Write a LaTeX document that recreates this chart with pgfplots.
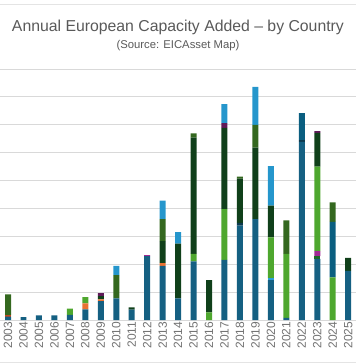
\documentclass[border=0pt]{standalone}
\usepackage{fontspec}
\setmainfont{Liberation Sans}
\usepackage{pgfplots}
\usepackage{pgfplotstable}
\pgfplotsset{compat=1.18}
\definecolor{cA}{HTML}{156082}
\definecolor{cO}{HTML}{E97132}
\definecolor{cBr}{HTML}{C04A1E}
\definecolor{cGt}{HTML}{196B24}
\definecolor{cG}{HTML}{2A9FD6}
\definecolor{cP}{HTML}{A02B93}
\definecolor{cD}{HTML}{4EA72E}
\definecolor{cN}{HTML}{0D3A4E}
\definecolor{cE}{HTML}{10401A}
\definecolor{cT}{HTML}{0A5E80}
\definecolor{cM}{HTML}{601A58}
\definecolor{cOl}{HTML}{34681F}
\definecolor{cH}{HTML}{2596CC}
\definecolor{txt}{HTML}{595959}
\definecolor{grd}{HTML}{D9D9D9}
\pgfplotstableread{
x  A    O    Br   Gt   G    P    D    N    E    T    M    Ol   H
0  0.12 0    0.05 0    0    0    0    0    0    0    0    0.75 0
1  0.10 0    0    0    0    0    0    0    0    0    0    0    0
2  0.17 0    0    0    0    0    0    0    0    0    0    0    0
3  0.17 0    0    0    0    0    0    0    0    0    0    0    0
4  0.18 0    0    0    0    0    0.23 0    0    0    0    0    0
5  0.38 0.22 0    0    0    0    0.22 0    0    0    0    0    0
6  0.68 0.06 0    0    0    0    0    0    0.12 0    0.10 0    0
7  0.78 0    0    0    0    0    0    0    0    0    0    0.83 0.33
8  0.37 0    0    0    0    0    0    0    0.08 0    0    0    0
9  2.29 0    0    0    0    0.04 0    0    0    0    0    0    0
10 1.94 0.10 0    0    0    0    0    0    0.79 0    0    0.79 0.66
11 0.78 0    0    0    0    0    0    0    1.96 0    0    0    0.41
12 2.10 0    0    0    0    0    0.27 0    4.17 0    0    0.15 0
13 0    0    0    0    0    0    0.27 0    1.16 0    0    0    0
14 2.16 0    0    0    0    0    1.82 0    2.91 0    0.17 0    0.68
15 3.38 0    0    0    0    0    0    0.10 1.59 0    0    0.07 0
16 3.62 0    0    0    0    0    0    0    2.56 0    0    0.82 1.36
17 1.43 0    0    0    0.06 0    1.47 0    1.14 0    0    0    1.42
18 0.08 0    0    0    0    0    2.29 0    0    0    0    1.20 0
19 6.39 0    0    0    0    0    0    0.06 0    0.97 0    0    0
20 2.19 0    0    0.10 0    0.18 3.03 0    1.21 0    0.06 0    0
21 0    0    0    0    0    0    1.53 0    0    1.99 0    0.70 0
22 1.76 0    0    0    0    0    0    0    0.47 0    0    0    0
}\data
\begin{document}
\begin{tikzpicture}
\begin{axis}[
  scale only axis,
  width=356bp, height=251.1bp,
  xmin=-0.52, xmax=22.5,
  ymin=0, ymax=9,
  ybar stacked, bar width=6bp,
  axis line style={draw=none},
  ytick={0,1,...,9}, yticklabels={},
  ymajorgrids, grid style={grd, line width=0.9bp},
  major tick length=0,
  xtick=data,
  xticklabels={2003,2004,2005,2006,2007,2008,2009,2010,2011,2012,2013,2014,2015,2016,2017,2018,2019,2020,2021,2022,2023,2024,2025},
  xticklabel style={rotate=90, anchor=east, font=\fontsize{12bp}{14bp}\selectfont, text=txt!85, inner sep=1.5bp},
  clip=false,
]
\addplot[fill=cA, draw=none] table[x=x,y=A]{\data};
\addplot[fill=cO, draw=none] table[x=x,y=O]{\data};
\addplot[fill=cBr, draw=none] table[x=x,y=Br]{\data};
\addplot[fill=cGt, draw=none] table[x=x,y=Gt]{\data};
\addplot[fill=cG, draw=none] table[x=x,y=G]{\data};
\addplot[fill=cP, draw=none] table[x=x,y=P]{\data};
\addplot[fill=cD, draw=none] table[x=x,y=D]{\data};
\addplot[fill=cN, draw=none] table[x=x,y=N]{\data};
\addplot[fill=cE, draw=none] table[x=x,y=E]{\data};
\addplot[fill=cT, draw=none] table[x=x,y=T]{\data};
\addplot[fill=cM, draw=none] table[x=x,y=M]{\data};
\addplot[fill=cOl, draw=none] table[x=x,y=Ol]{\data};
\addplot[fill=cH, draw=none] table[x=x,y=H]{\data};
\coordinate (BL) at (rel axis cs:0,0);
\coordinate (TR) at (rel axis cs:1,1);
\coordinate (TL) at (rel axis cs:0,1);
\coordinate (TC) at (rel axis cs:0.5,1);
\end{axis}
\draw[grd!70, line width=0.8bp] ([yshift=64.7bp]TL) -- ([yshift=64.7bp]TR);
\draw[grd!70, line width=0.8bp] ([yshift=-42bp]BL) -- ([yshift=-42bp]BL -| TR);
\node[text=txt, font=\fontsize{15.8bp}{18bp}\selectfont, anchor=base, inner sep=0pt] at ([yshift=37.3bp]TC) {Annual European Capacity Added -- by Country};
\node[text=txt, font=\fontsize{11.3bp}{13bp}\selectfont, anchor=base, inner sep=0pt] at ([yshift=20.5bp]TC) {(Source: EICAsset Map)};
\pgfresetboundingbox
\path[use as bounding box] ([yshift=-44bp]BL) rectangle ([yshift=69bp]TR);
\end{tikzpicture}
\end{document}
